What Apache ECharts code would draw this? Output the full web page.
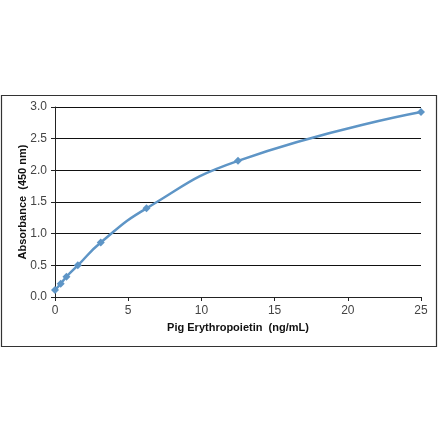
<!DOCTYPE html>
<html>
<head>
<meta charset="utf-8">
<script src="https://cdn.jsdelivr.net/npm/echarts@6/dist/echarts.min.js"></script>
<style>
  html, body { margin: 0; padding: 0; background: #fff; }
  #chart { width: 440px; height: 441px; }
</style>
</head>
<body>
<div id="chart"></div>
<script>
// concentration (ng/mL) and absorbance
const concentrations = [0, 0.39, 0.78, 1.56, 3.125, 6.25, 12.5, 25];
const absorbance = [0.11, 0.21, 0.32, 0.50, 0.86, 1.40, 2.15, 2.92];
const xTicks = [0, 5, 10, 15, 20, 25];
const yTicks = [0, 0.5, 1.0, 1.5, 2.0, 2.5, 3.0];

const chart = echarts.init(document.getElementById('chart'), null, { renderer: 'canvas' });

const labelFont = { fontFamily: 'Liberation Sans, Arial, sans-serif', fontSize: 12, color: '#444' };
const titleFont = { fontFamily: 'Liberation Sans, Arial, sans-serif', fontSize: 11, fontWeight: 'bold', color: '#111' };

chart.setOption({
    animation: false,
    graphic: [{
        type: 'rect',
        shape: { x: 1.5, y: 95.5, width: 435, height: 251 },
        style: { fill: 'none', stroke: '#333', lineWidth: 1.2 },
        silent: true
    }],
    grid: { left: 55, right: 19, top: 107, bottom: 144 },
    xAxis: {
        type: 'value',
        min: xTicks[0],
        max: xTicks[xTicks.length - 1],
        interval: 5,
        name: 'Pig Erythropoietin  (ng/mL)',
        nameLocation: 'middle',
        nameGap: 25,
        nameMoveOverlap: false,
        nameTextStyle: titleFont,
        axisLine: { show: true, lineStyle: { color: '#222', width: 1 } },
        axisTick: { show: true, length: 4, lineStyle: { color: '#222' } },
        axisLabel: Object.assign({ margin: 8 }, labelFont),
        splitLine: { show: false }
    },
    yAxis: {
        type: 'value',
        min: yTicks[0],
        max: yTicks[yTicks.length - 1],
        interval: 0.5,
        name: 'Absorbance  (450 nm)',
        nameLocation: 'middle',
        nameGap: 27,
        nameMoveOverlap: false,
        nameTextStyle: titleFont,
        axisLine: { show: true, lineStyle: { color: '#222', width: 1 } },
        axisTick: { show: true, length: 4, lineStyle: { color: '#222' } },
        axisLabel: Object.assign({ margin: 8, formatter: v => v.toFixed(1) }, labelFont),
        splitLine: { show: true, lineStyle: { color: '#111', width: 1 } }
    },
    series: [{
        type: 'line',
        data: concentrations.map((c, i) => [c, absorbance[i]]),
        smooth: 0.5,
        symbol: 'diamond',
        symbolSize: 8,
        lineStyle: { color: '#5e95c6', width: 2.5 },
        itemStyle: { color: '#5e95c6' }
    }]
});
</script>
</body>
</html>
